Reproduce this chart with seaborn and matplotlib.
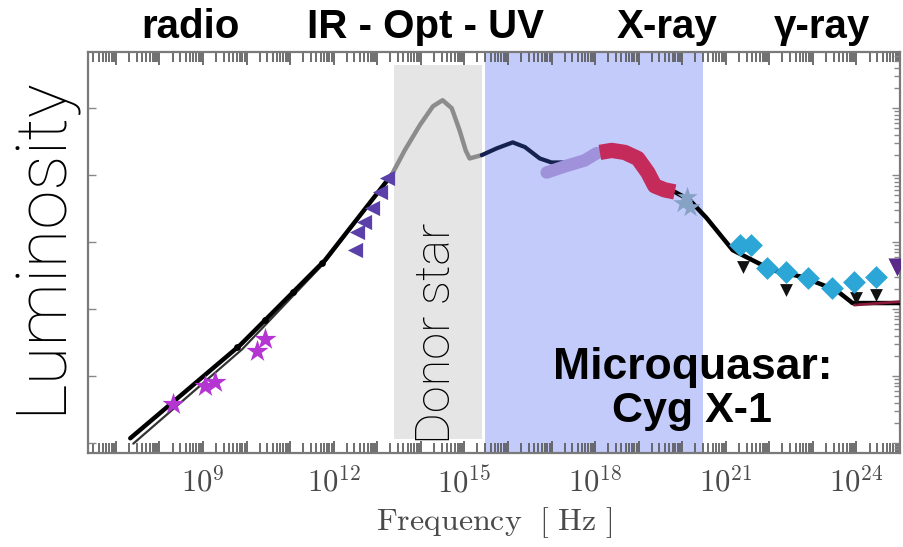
import numpy as np
import matplotlib
matplotlib.use("Agg")
import matplotlib.pyplot as plt
import matplotlib.ticker as mticker
import seaborn as sns

# All values are log10(frequency / Hz) and log10(luminosity / erg s^-1)

# radio-to-IR jet model and its companion curve
jet_nu = [7.33, 9.85, 11.80, 13.36]
jet_L = [31.07, 32.46, 33.73, 35.03]
jet2_nu = [7.40, 9.90, 11.80, 13.36]
jet2_L = [30.99, 32.40, 33.70, 35.03]
jet_dots_nu = [9.78, 10.42, 11.06, 11.73]
jet_dots_L = [32.44, 32.84, 33.25, 33.69]

# radio measurements
radio_nu = [8.31, 9.05, 9.28, 10.24, 10.42]
radio_L = [31.58, 31.85, 31.91, 32.37, 32.55]

# infrared measurements
ir_nu = [13.22, 13.06, 12.88, 12.69, 12.53, 12.49]
ir_L = [34.96, 34.75, 34.51, 34.30, 34.15, 33.88]

# donor star black body
star_nu = [13.36, 13.63, 13.98, 14.28, 14.50, 14.71, 14.89, 15.03, 15.12, 15.40]
star_L = [35.04, 35.37, 35.75, 36.03, 36.12, 36.00, 35.67, 35.37, 35.25, 35.30]

# UV / soft X-ray model
uv_nu = [15.40, 15.74, 16.11, 16.39, 16.73, 17.00, 17.26]
uv_L = [35.30, 35.40, 35.49, 35.42, 35.25, 35.19, 35.19]

# soft X-ray spectrum
soft_nu = [16.89, 17.30, 17.76, 18.04]
soft_L = [35.04, 35.13, 35.22, 35.33]

# hard X-ray spectrum
hard_nu = [18.11, 18.38, 18.68, 18.98, 19.21, 19.37, 19.60, 19.83]
hard_L = [35.34, 35.37, 35.34, 35.25, 35.04, 34.84, 34.78, 34.75]

# high-energy model tail
tail_nu = [19.83, 20.17, 20.56, 21.16, 22.07, 22.76, 23.54, 23.91, 25.00]
tail_L = [34.75, 34.63, 34.36, 33.88, 33.58, 33.48, 33.28, 33.09, 33.09]
tail2_nu = [23.95, 25.00]
tail2_L = [33.06, 33.11]

# MeV points
mev_nu = [20.01, 20.10, 20.17]
mev_L = [34.58, 34.67, 34.52]

# gamma-ray points and upper limits
gam_nu = [21.32, 21.59, 21.94, 22.39, 22.88, 23.43, 23.95, 24.46]
gam_L = [33.96, 33.96, 33.61, 33.55, 33.46, 33.31, 33.40, 33.48]
lim_nu = [21.39, 22.39, 24.00, 24.46]
lim_L = [33.63, 33.28, 33.16, 33.21]
tev_nu = [24.93]
tev_L = [33.63]

# band limits
donor_band = [13.38, 15.40]
xray_band = [15.47, 20.47]

tick_exps = [9, 12, 15, 18, 21, 24]
band_labels = ["radio", "IR - Opt - UV", "X-ray", "\u03b3-ray"]


def p(vals):
    return 10.0 ** np.asarray(vals, dtype=float)


sns.set_theme(style="white")
plt.rcParams["font.family"] = ["Liberation Sans", "DejaVu Sans"]
plt.rcParams["mathtext.fontset"] = "cm"

W, H = 904, 547
fig = plt.figure(figsize=(W / 100, H / 100), dpi=100)
ax = fig.add_axes([88 / W, 1 - 453 / H, (900 - 88) / W, (453 - 52) / H])
ax.set_xscale("log")
ax.set_yscale("log")
ax.set_xlim(p(6.36), p(25.0))
ax.set_ylim(p(30.85), p(36.84))

ax.axvspan(p(donor_band[0]), p(donor_band[1]), ymin=0.035, ymax=0.968,
           color="#e5e5e5", lw=0, zorder=0)
ax.axvspan(p(xray_band[0]), p(xray_band[1]), color="#c3cbfa", lw=0, zorder=0)

# model curves
sns.lineplot(x=p(jet2_nu), y=p(jet2_L), ax=ax, color="#333333", lw=1.6,
             sort=False, estimator=None, zorder=3)
sns.lineplot(x=p(jet_nu), y=p(jet_L), ax=ax, color="black", lw=3.2,
             sort=False, estimator=None, zorder=3)
sns.lineplot(x=p(star_nu), y=p(star_L), ax=ax, color="#8c8c8c", lw=3.2,
             sort=False, estimator=None, zorder=3)
sns.lineplot(x=p(uv_nu), y=p(uv_L), ax=ax, color="#15214f", lw=3.0,
             sort=False, estimator=None, zorder=3)
sns.lineplot(x=p(tail_nu), y=p(tail_L), ax=ax, color="black", lw=3.2,
             sort=False, estimator=None, zorder=3)
sns.lineplot(x=p(tail2_nu), y=p(tail2_L), ax=ax, color="#8a1a3a", lw=2.0,
             sort=False, estimator=None, zorder=3)

# spectra drawn as thick bands
sns.lineplot(x=p(soft_nu), y=p(soft_L), ax=ax, color="#9f92da", lw=9,
             sort=False, estimator=None, zorder=4, solid_capstyle="round")
sns.lineplot(x=p(hard_nu), y=p(hard_L), ax=ax, color="#c42a5a", lw=11,
             sort=False, estimator=None, zorder=4, solid_capstyle="butt")

# measurements
sns.scatterplot(x=p(jet_dots_nu), y=p(jet_dots_L), ax=ax, color="black",
                marker="o", s=24, linewidth=0, zorder=5)
sns.scatterplot(x=p(radio_nu), y=p(radio_L), ax=ax, color="#b535d2",
                marker="*", s=280, linewidth=0, zorder=5)
sns.scatterplot(x=p(ir_nu), y=p(ir_L), ax=ax, color="#5a40a8",
                marker="<", s=120, linewidth=0, zorder=5)
sns.scatterplot(x=p(mev_nu), y=p(mev_L), ax=ax, color="#86a2c4",
                marker="*", s=240, linewidth=0, zorder=5)
sns.scatterplot(x=p(lim_nu), y=p(lim_L), ax=ax, color="#111111",
                marker="v", s=85, linewidth=0, zorder=5)
sns.scatterplot(x=p(gam_nu), y=p(gam_L), ax=ax, color="#2ba6d6",
                marker="D", s=135, linewidth=0, zorder=6)
sns.scatterplot(x=p(tev_nu), y=p(tev_L), ax=ax, color="#5a2a8a",
                marker="v", s=170, linewidth=0, zorder=5, clip_on=True)

# axes frame and ticks
for sp in ax.spines.values():
    sp.set_color("#7a7a7a")
    sp.set_linewidth(1.6)
    sp.set_visible(True)

ax.xaxis.set_major_locator(mticker.LogLocator(base=10, numticks=60))
ax.xaxis.set_minor_locator(mticker.LogLocator(base=10, subs=np.arange(2, 10), numticks=60))


def xfmt(v, pos):
    e = int(round(np.log10(v)))
    return rf"$10^{{{e}}}$" if e in tick_exps else ""


ax.xaxis.set_major_formatter(mticker.FuncFormatter(xfmt))
ax.xaxis.set_minor_formatter(mticker.NullFormatter())
ax.yaxis.set_major_locator(mticker.LogLocator(base=10, numticks=20))
ax.yaxis.set_minor_locator(mticker.LogLocator(base=10, subs=np.arange(2, 10), numticks=20))
ax.yaxis.set_major_formatter(mticker.NullFormatter())
ax.yaxis.set_minor_formatter(mticker.NullFormatter())

ax.tick_params(axis="x", which="both", direction="in", top=True, bottom=True,
               color="#555555", width=1.2)
ax.tick_params(axis="x", which="major", length=9, pad=10, labelsize=22,
               labelcolor="#4a4a4a")
ax.tick_params(axis="x", which="minor", length=7)
ax.tick_params(axis="y", which="both", direction="in", left=True, right=True,
               color="#888888", width=1.0)
ax.tick_params(axis="y", which="major", length=6)
ax.tick_params(axis="y", which="minor", length=4, left=False)

ax.set_xlabel(r"$\mathrm{Frequency\ \ [\ Hz\ ]}$", fontsize=23,
              color="#4a4a4a", labelpad=4)
ax.set_ylabel("")

# annotations
def ftext(x, y, s, **kw):
    fig.text(x / W, 1 - y / H, s, ha="center", va="center", **kw)


for (xc, s) in zip([190, 426, 667, 822], band_labels):
    ftext(xc, 27, s, fontsize=29, fontweight="bold", color="black")

ftext(42, 245, "Luminosity", fontsize=51, rotation=90, color="black",
      family=["Roboto", "DejaVu Sans"], fontweight="light")
ftext(437, 333, "Donor star", fontsize=35, rotation=90, color="black",
      family=["Roboto", "DejaVu Sans"], fontweight="light")
ftext(693, 367, "Microquasar:", fontsize=32, fontweight="bold", color="black")
ftext(692, 411, "Cyg X-1", fontsize=31, fontweight="bold", color="black")

fig.savefig("out.png", dpi=100)
